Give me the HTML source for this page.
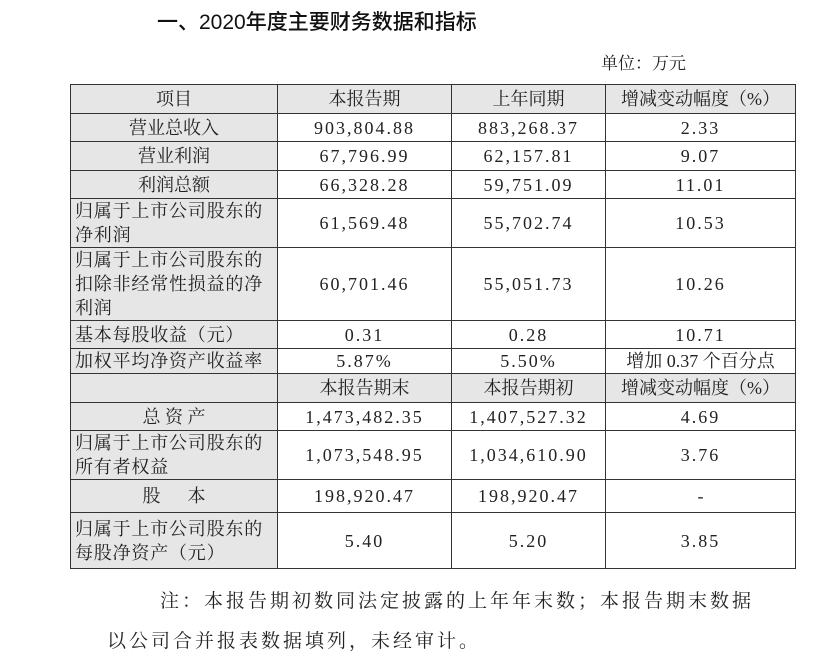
<!DOCTYPE html>
<html><head><meta charset="utf-8"><style>
body{margin:0;width:831px;height:662px;background:#fff;position:relative;font-family:"Liberation Serif","Noto Serif CJK SC",serif;color:#222;overflow:hidden}
.t{position:absolute;white-space:nowrap}
table{position:absolute;left:70px;top:84px;border-collapse:collapse;font-size:18px}
td{border:1.5px solid #333;text-align:center;padding:0;line-height:24px}
td.l{background:#e6e6e6}
tr.h td{background:#e6e6e6}
td.ll{text-align:left;padding-left:4px;letter-spacing:0.8px}
td.n{letter-spacing:2px}
</style></head><body>
<div class="t" style="left:157px;top:6px;font-size:21px;font-family:'Liberation Sans','Noto Sans CJK SC',sans-serif;font-weight:500;color:#111">一、2020年度主要财务数据和指标</div>
<div class="t" style="left:601px;top:49px;font-size:17px">单位：万元</div>
<table>
<colgroup><col style="width:207px"><col style="width:174px"><col style="width:154px"><col style="width:190px"></colgroup>
<tr class="h" style="height:29px"><td>项目</td><td>本报告期</td><td>上年同期</td><td>增减变动幅度（%）</td></tr>
<tr style="height:28px"><td class="l">营业总收入</td><td class="n">903,804.88</td><td class="n">883,268.37</td><td class="n">2.33</td></tr>
<tr style="height:29px"><td class="l">营业利润</td><td class="n">67,796.99</td><td class="n">62,157.81</td><td class="n">9.07</td></tr>
<tr style="height:28px"><td class="l">利润总额</td><td class="n">66,328.28</td><td class="n">59,751.09</td><td class="n">11.01</td></tr>
<tr style="height:49px"><td class="l ll">归属于上市公司股东的<br>净利润</td><td class="n">61,569.48</td><td class="n">55,702.74</td><td class="n">10.53</td></tr>
<tr style="height:73px"><td class="l ll">归属于上市公司股东的<br>扣除非经常性损益的净<br>利润</td><td class="n">60,701.46</td><td class="n">55,051.73</td><td class="n">10.26</td></tr>
<tr style="height:28px"><td class="l ll">基本每股收益（元）</td><td class="n">0.31</td><td class="n">0.28</td><td class="n">10.71</td></tr>
<tr style="height:25px"><td class="l ll">加权平均净资产收益率</td><td class="n">5.87%</td><td class="n">5.50%</td><td>增加 0.37 个百分点</td></tr>
<tr class="h" style="height:29px"><td></td><td>本报告期末</td><td>本报告期初</td><td>增减变动幅度（%）</td></tr>
<tr style="height:28px"><td class="l">总 资 产</td><td class="n">1,473,482.35</td><td class="n">1,407,527.32</td><td class="n">4.69</td></tr>
<tr style="height:49px"><td class="l ll">归属于上市公司股东的<br>所有者权益</td><td class="n">1,073,548.95</td><td class="n">1,034,610.90</td><td class="n">3.76</td></tr>
<tr style="height:33px"><td class="l">股&nbsp;&nbsp;&nbsp;&nbsp;&nbsp;&nbsp;本</td><td class="n">198,920.47</td><td class="n">198,920.47</td><td>-</td></tr>
<tr style="height:56px"><td class="l ll">归属于上市公司股东的<br>每股净资产（元）</td><td class="n">5.40</td><td class="n">5.20</td><td class="n">3.85</td></tr>
</table>
<div class="t" style="left:160px;top:586px;font-size:19px;letter-spacing:3px">注：本报告期初数同法定披露的上年年末数；本报告期末数据</div>
<div class="t" style="left:107px;top:626px;font-size:19px;letter-spacing:3px">以公司合并报表数据填列，未经审计。</div>
</body></html>
